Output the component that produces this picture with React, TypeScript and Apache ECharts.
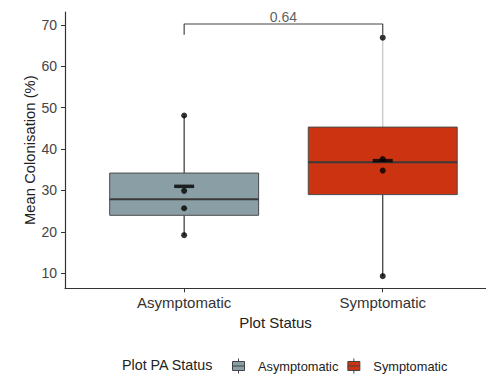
import React, { useEffect, useRef } from "react";
import * as echarts from "echarts";

// ---- data ----
const categories = ["Asymptomatic", "Symptomatic"];
const categoryPositions = [1, 2];
// [min, Q1, median, Q3, max]
const asymBox = [19.2, 24.0, 27.9, 34.2, 48.1];
const symBox = [9.3, 29.0, 36.8, 45.3, 66.9];
const asymPoints = [48.1, 29.9, 25.7, 19.2];
const symPoints = [66.9, 37.6, 34.8, 9.3];
const means = [31.0, 37.2];
const yTicks = [10, 20, 30, 40, 50, 60, 70];
const pValueLabel = "0.64";
const bracketY = [67.6, 70.2];

const colors = ["#8A9EA5", "#CC3311"];
const upperWhiskerColors = ["#333333", "#c4c4c4"];

const FONT = "'Liberation Sans', Arial, Helvetica, sans-serif";

function makeRenderItem(upperColor: string) {
  return (params: any, api: any) => {
    const x = api.value(0);
    const pMin = api.coord([x, api.value(1)]);
    const pQ1 = api.coord([x, api.value(2)]);
    const pMed = api.coord([x, api.value(3)]);
    const pQ3 = api.coord([x, api.value(4)]);
    const pMax = api.coord([x, api.value(5)]);
    const w = api.size([0.75, 0])[0];
    const cx = pMin[0];
    return {
      type: "group",
      children: [
        {
          type: "line",
          shape: { x1: cx, y1: pMin[1], x2: cx, y2: pQ1[1] },
          style: { stroke: "#333333", lineWidth: 1.2 },
        },
        {
          type: "line",
          shape: { x1: cx, y1: pMax[1], x2: cx, y2: pQ3[1] },
          style: { stroke: upperColor, lineWidth: 1.2 },
        },
        {
          type: "rect",
          shape: { x: cx - w / 2, y: pQ3[1], width: w, height: pQ1[1] - pQ3[1] },
          style: { fill: api.visual("color"), stroke: "#4a4a4a", lineWidth: 1 },
        },
        {
          type: "line",
          shape: { x1: cx - w / 2, y1: pMed[1], x2: cx + w / 2, y2: pMed[1] },
          style: { stroke: "#3a3a3a", lineWidth: 2 },
        },
      ],
    };
  };
}

export default function App() {
  const ref = useRef<HTMLDivElement>(null);

  useEffect(() => {
    if (!ref.current) return;
    const chart = echarts.init(ref.current, undefined, { renderer: "svg" });
    const boxes = [asymBox, symBox];
    const pts = [asymPoints, symPoints];

    const option: any = {
      animation: false,
      textStyle: { fontFamily: FONT },
      title: {
        text: "Plot PA Status",
        left: 122,
        top: 358,
        padding: 0,
        textStyle: { fontFamily: FONT, fontSize: 14.3, fontWeight: "normal", color: "#222" },
      },
      legend: {
        data: categories,
        left: 232,
        top: 358,
        padding: 0,
        itemGap: 9,
        itemWidth: 13,
        itemHeight: 15,
        icon: "path://M6,0L6,3M0,3L12,3L12,12L0,12ZM0,7.5L12,7.5M6,12L6,15",
        itemStyle: { borderColor: "#444", borderWidth: 1 },
        textStyle: { fontFamily: FONT, fontSize: 12.8, color: "#222", padding: [0, 0, 0, 8] },
      },
      grid: { left: 65, right: 0, top: 12, bottom: 86.7, containLabel: false },
      xAxis: {
        type: "value",
        min: 0.4,
        max: 2.52,
        name: "Plot Status",
        nameLocation: "middle",
        nameGap: 26,
        nameTextStyle: { fontFamily: FONT, fontSize: 15, color: "#222" },
        splitLine: { show: false },
        axisLine: { lineStyle: { color: "#333", width: 1.2 } },
        axisTick: { show: true, customValues: categoryPositions, length: 4, lineStyle: { color: "#333" } },
        axisLabel: {
          customValues: categoryPositions,
          formatter: (v: number) => categories[categoryPositions.indexOf(v)] ?? "",
          fontFamily: FONT,
          fontSize: 15,
          color: "#333",
          margin: 7,
        },
      },
      yAxis: {
        type: "value",
        min: 6.37,
        max: 73.1,
        name: "Mean Colonisation (%)",
        nameLocation: "middle",
        nameGap: 28,
        nameMoveOverlap: false,
        nameTextStyle: { fontFamily: FONT, fontSize: 14.8, color: "#222" },
        splitLine: { show: false },
        axisLine: { show: true, lineStyle: { color: "#333", width: 1.2 } },
        axisTick: { show: true, customValues: yTicks, length: 4, lineStyle: { color: "#333" } },
        axisLabel: {
          customValues: yTicks,
          fontFamily: FONT,
          fontSize: 14,
          color: "#444",
          margin: 8,
        },
      },
      series: [
        ...categories.map((name, i) => ({
          type: "custom",
          name,
          itemStyle: { color: colors[i] },
          renderItem: makeRenderItem(upperWhiskerColors[i]),
          encode: { x: 0, y: [1, 2, 3, 4, 5] },
          data: [[categoryPositions[i], ...boxes[i]]],
          z: 2,
        })),
        {
          type: "scatter",
          symbol: "circle",
          symbolSize: 6,
          itemStyle: { color: "#000" },
          data: pts.flatMap((arr, i) => arr.map((v) => [categoryPositions[i], v])),
          z: 4,
        },
        {
          type: "scatter",
          symbol: "rect",
          symbolSize: [20, 3.5],
          itemStyle: { color: "#000" },
          data: means.map((m, i) => [categoryPositions[i], m]),
          z: 5,
        },
        {
          type: "line",
          symbol: "none",
          lineStyle: { color: "#444", width: 1.2 },
          data: [
            [categoryPositions[0], bracketY[0]],
            [categoryPositions[0], bracketY[1]],
            [categoryPositions[1], bracketY[1]],
            [categoryPositions[1], bracketY[0]],
          ],
          z: 3,
        },
        {
          type: "scatter",
          symbolSize: 0,
          data: [[(categoryPositions[0] + categoryPositions[1]) / 2, bracketY[1]]],
          label: {
            show: true,
            position: "top",
            distance: 0,
            formatter: pValueLabel,
            fontFamily: FONT,
            fontSize: 14,
            color: "#333",
          },
          z: 6,
        },
      ],
    };
    chart.setOption(option);
    return () => chart.dispose();
  }, []);

  return (
    <div
      ref={ref}
      style={{ position: "fixed", left: 0, top: 0, width: 486, height: 375, background: "#fff" }}
    />
  );
}
